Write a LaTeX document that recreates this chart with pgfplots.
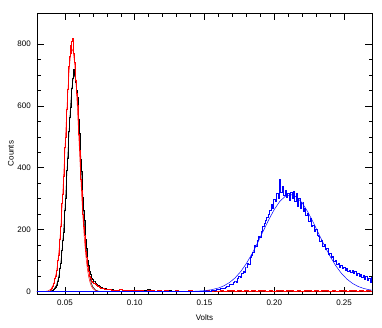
\documentclass[border=0pt]{standalone}
\usepackage{fontspec}
\setmainfont{Liberation Sans}
\usepackage{pgfplots}
\pgfplotsset{compat=1.18}
\begin{document}
\fontsize{8}{9.6}\selectfont
\begin{tikzpicture}
\begin{axis}[
 at={(0,0)}, anchor=south west,
 scale only axis, width=335pt, height=281pt,
 xmin=0.03, xmax=0.27, ymin=-8, ymax=900,
 xtick={0.05,0.10,0.15,0.20,0.25}, xticklabels={0.05,0.10,0.15,0.20,0.25},
 ytick={0,200,400,600,800}, yticklabels={0,200,400,600,800},
 minor x tick num=4, minor y tick num=3,
 tick align=inside, xtick pos=both, ytick pos=both,
 major tick length=7pt, minor tick length=3.5pt,
 every tick/.style={black, line width=0.5pt},
 axis line style={line width=0.7pt},
 xlabel={Volts}, ylabel={Counts},
 xlabel style={at={(axis description cs:0.5,-0.085)}, anchor=center},
 ylabel style={at={(axis description cs:-0.078,0.5)}, anchor=center},
 xticklabel style={inner sep=0pt, yshift=-6pt},
 yticklabel style={inner sep=0pt, xshift=-6pt},
 every axis plot/.append style={no markers},
]
% black histogram
\addplot[black, const plot mark mid, line width=0.6pt] coordinates {
(0.0300,0) (0.0385,0) (0.0400,1) (0.0405,2) (0.0410,3) (0.0415,4) (0.0420,6) (0.0425,8) (0.0430,12) (0.0435,15)
(0.0440,20) (0.0445,28) (0.0450,34) (0.0455,46) (0.0460,57) (0.0465,74) (0.0470,90) (0.0475,112) (0.0480,134) (0.0485,166)
(0.0490,192) (0.0495,228) (0.0500,262) (0.0505,302) (0.0510,344) (0.0515,392) (0.0520,432) (0.0525,480) (0.0530,518) (0.0535,562)
(0.0540,596) (0.0545,632) (0.0550,656) (0.0555,690) (0.0560,700) (0.0565,718) (0.0570,702) (0.0575,690) (0.0580,676) (0.0585,650)
(0.0590,628) (0.0595,590) (0.0600,558) (0.0605,512) (0.0610,476) (0.0615,428) (0.0620,390) (0.0625,340) (0.0630,304) (0.0635,262)
(0.0640,230) (0.0645,192) (0.0650,168) (0.0655,140) (0.0660,120) (0.0665,100) (0.0670,86) (0.0675,74) (0.0680,66) (0.0685,56)
(0.0690,50) (0.0695,44) (0.0700,40) (0.0710,34) (0.0720,28) (0.0730,24) (0.0740,20) (0.0750,17) (0.0760,14) (0.0770,12)
(0.0780,10) (0.0790,9) (0.0800,8) (0.0820,7) (0.0840,6) (0.0860,5) (0.0880,5) (0.0900,7)
(0.0925,5) (0.0950,4) (0.0975,3) (0.1000,4) (0.1025,3) (0.1050,4) (0.1075,3) (0.1100,6) (0.1125,3) (0.1150,2)
(0.1175,3) (0.1200,2) (0.1225,2) (0.1250,3) (0.1275,2) (0.1300,2) (0.1325,1) (0.1350,2) (0.1375,1) (0.1400,2)
(0.1425,1) (0.1450,1) (0.1475,2) (0.1500,1) (0.1525,2) (0.1550,1) (0.1575,2) (0.1600,1) (0.1625,2) (0.1650,1)
(0.1675,2) (0.1700,1) (0.1725,1) (0.1750,2) (0.1775,1) (0.1800,2) (0.1825,1) (0.1850,2) (0.1875,1) (0.1900,1)
(0.1925,2) (0.1950,1) (0.1975,2) (0.2000,1) (0.2025,2) (0.2050,1) (0.2075,1) (0.2100,2) (0.2125,1) (0.2150,2)
(0.2175,1) (0.2200,2) (0.2225,1) (0.2250,1) (0.2275,2) (0.2300,1) (0.2325,2) (0.2350,1) (0.2375,2) (0.2400,1)
(0.2425,1) (0.2450,2) (0.2475,1) (0.2500,2) (0.2525,1) (0.2550,1) (0.2575,2) (0.2600,1) (0.2625,2) (0.2650,1)
(0.2675,1) (0.2700,2)
};
% black fit
\addplot[black, line width=0.5pt] coordinates {
(0.030,0) (0.038,0.3) (0.040,1.6) (0.042,6.4) (0.044,21) (0.045,36) (0.046,58) (0.047,91) (0.048,135) (0.049,193)
(0.050,264) (0.051,346) (0.052,433) (0.053,520) (0.054,598) (0.055,657) (0.056,693) (0.057,699) (0.058,675)
(0.059,624) (0.060,553) (0.061,469) (0.062,381) (0.063,296) (0.064,220) (0.065,157) (0.066,107) (0.067,70)
(0.068,44) (0.069,26) (0.070,15) (0.072,4.4) (0.074,1.1) (0.076,0.2) (0.080,0) (0.270,0)
};
% red histogram
\addplot[red, const plot mark mid, line width=0.6pt] coordinates {
(0.0300,0) (0.0380,0) (0.0385,1) (0.0390,2) (0.0395,3) (0.0400,6) (0.0405,9) (0.0410,15) (0.0415,16) (0.0420,26)
(0.0425,30) (0.0430,43) (0.0435,49) (0.0440,68) (0.0445,77) (0.0450,102) (0.0455,116) (0.0460,150) (0.0465,168) (0.0470,212)
(0.0475,236) (0.0480,285) (0.0485,314) (0.0490,372) (0.0495,402) (0.0500,466) (0.0505,498) (0.0510,561) (0.0515,590) (0.0520,652)
(0.0525,670) (0.0530,728) (0.0535,760) (0.0540,795) (0.0545,770) (0.0550,810) (0.0555,819) (0.0560,780) (0.0565,770) (0.0570,742)
(0.0575,712) (0.0580,684) (0.0585,640) (0.0590,602) (0.0595,548) (0.0600,508) (0.0605,455) (0.0610,418) (0.0615,362) (0.0620,326)
(0.0625,280) (0.0630,248) (0.0635,210) (0.0640,182) (0.0645,152) (0.0650,130) (0.0655,110) (0.0660,92) (0.0665,80) (0.0670,66)
(0.0675,58) (0.0680,48) (0.0685,44) (0.0690,38) (0.0695,33) (0.0700,30) (0.0710,26) (0.0720,22) (0.0730,20) (0.0740,17)
(0.0750,14) (0.0760,12) (0.0770,11) (0.0780,9) (0.0790,8) (0.0800,7) (0.0820,6) (0.0840,5) (0.0860,5) (0.0880,4) (0.0900,6)
(0.0925,4) (0.0950,3) (0.0975,4) (0.1000,3) (0.1025,4) (0.1050,3) (0.1075,2) (0.1100,3) (0.1125,3) (0.1150,2)
(0.1175,3) (0.1200,2) (0.1225,3) (0.1250,2) (0.1275,2) (0.1300,3) (0.1325,2) (0.1350,1) (0.1375,2) (0.1400,3)
(0.1425,2) (0.1450,1) (0.1475,2) (0.1500,2) (0.1525,3) (0.1550,2) (0.1575,4) (0.1600,2) (0.1625,3) (0.1650,2)
(0.1675,4) (0.1700,3) (0.1725,2) (0.1750,3) (0.1775,2) (0.1800,4) (0.1825,2) (0.1850,3) (0.1875,2) (0.1900,3)
(0.1925,4) (0.1950,2) (0.1975,3) (0.2000,2) (0.2025,4) (0.2050,3) (0.2075,2) (0.2100,3) (0.2125,4) (0.2150,2)
(0.2175,3) (0.2200,2) (0.2225,3) (0.2250,4) (0.2275,2) (0.2300,3) (0.2325,2) (0.2350,4) (0.2375,3) (0.2400,2)
(0.2425,3) (0.2450,2) (0.2475,4) (0.2500,3) (0.2525,2) (0.2550,3) (0.2575,4) (0.2600,2) (0.2625,3) (0.2650,2)
(0.2675,3) (0.2700,2)
};
% red fit
\addplot[red, line width=0.5pt] coordinates {
(0.030,0) (0.036,0.4) (0.038,2.1) (0.040,7.7) (0.042,24) (0.044,64) (0.045,98) (0.046,144) (0.047,205) (0.048,278)
(0.049,364) (0.050,457) (0.051,552) (0.052,640) (0.053,713) (0.054,763) (0.055,784) (0.056,775) (0.057,736)
(0.058,671) (0.059,588) (0.060,495) (0.061,401) (0.062,311) (0.063,233) (0.064,167) (0.065,115) (0.066,76)
(0.067,48) (0.068,30) (0.069,17) (0.070,9.8) (0.072,2.8) (0.074,0.7) (0.076,0.1) (0.080,0) (0.270,0)
};
% blue histogram
\addplot[blue, const plot mark mid, line width=0.45pt] coordinates {
(0.030,0) (0.150,0) (0.151,1) (0.152,1) (0.153,2) (0.154,2) (0.155,3) (0.156,3) (0.157,5) (0.158,4) (0.159,6)
(0.160,8) (0.161,7) (0.162,10) (0.163,12) (0.164,11) (0.165,15) (0.166,17) (0.167,16) (0.168,22) (0.169,24)
(0.170,22) (0.171,30) (0.172,34) (0.173,31) (0.174,42) (0.175,48) (0.176,45) (0.177,58) (0.178,66) (0.179,62)
(0.180,80) (0.181,92) (0.182,88) (0.183,112) (0.184,118) (0.185,128) (0.186,150) (0.187,146) (0.188,165) (0.189,178)
(0.190,175) (0.191,196) (0.192,210) (0.193,220) (0.194,232) (0.195,240) (0.196,250) (0.197,262) (0.198,282) (0.199,270)
(0.200,298) (0.201,292) (0.202,318) (0.203,300) (0.204,362) (0.205,322) (0.206,340) (0.207,310) (0.208,326) (0.209,305)
(0.210,318) (0.211,296) (0.212,322) (0.213,300) (0.214,325) (0.215,292) (0.216,318) (0.217,275) (0.218,300) (0.219,268)
(0.220,290) (0.221,258) (0.222,270) (0.223,245) (0.224,252) (0.225,228) (0.226,236) (0.227,210) (0.228,214) (0.229,196)
(0.230,200) (0.231,182) (0.232,178) (0.233,162) (0.234,166) (0.235,148) (0.236,152) (0.237,136) (0.238,140) (0.239,120)
(0.240,125) (0.241,110) (0.242,115) (0.243,98) (0.244,102) (0.245,88) (0.246,92) (0.247,80) (0.248,85) (0.249,74)
(0.250,78) (0.251,70) (0.252,74) (0.253,66) (0.254,70) (0.255,62) (0.256,68) (0.257,58) (0.258,64) (0.259,54)
(0.260,60) (0.261,50) (0.262,56) (0.263,46) (0.264,54) (0.265,40) (0.266,48) (0.267,36) (0.268,44) (0.269,30)
(0.270,46)
};
% blue fit
\addplot[blue, line width=0.5pt] coordinates {
(0.030,0) (0.130,0) (0.140,0.5) (0.145,1.2) (0.150,2.8) (0.155,5.8) (0.160,11.4) (0.164,18.7) (0.168,29.4) (0.172,44.5)
(0.176,64.8) (0.180,90.6) (0.184,121.6) (0.188,156.9) (0.192,194.6) (0.196,231.8) (0.200,265.3) (0.204,291.7)
(0.208,308.2) (0.212,313) (0.216,305.2) (0.220,286) (0.224,257.5) (0.228,222.7) (0.232,185.1) (0.236,147.8)
(0.240,113.4) (0.244,83.6) (0.248,59.2) (0.252,40.3) (0.256,26.3) (0.260,16.5) (0.264,10.0) (0.268,5.8) (0.270,4.3)
};
\end{axis}
\pgfresetboundingbox
\path (-37pt,-33pt) rectangle (345pt,294pt);
\end{tikzpicture}
\end{document}
